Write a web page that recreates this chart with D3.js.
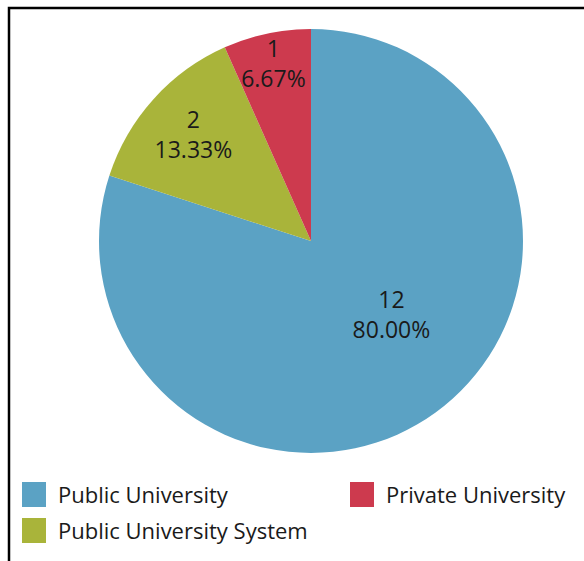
<!DOCTYPE html>
<html>
<head>
<meta charset="utf-8">
<script src="https://cdn.jsdelivr.net/npm/d3@7"></script>
<style>
  body { margin: 0; background: #fff; }
  text { font-family: "Open Sans", "Noto Sans", sans-serif; fill: #1a1a1a; }
</style>
</head>
<body>
<div id="chart"></div>
<script>
// data
var categories = ['Public University', 'Public University System', 'Private University'];
var counts = [12, 2, 1];
var colors = ['#5ba2c4', '#a9b43a', '#cd3a4e'];
// legend order as shown
var legendOrder = ['Public University', 'Private University', 'Public University System'];

var width = 584, height = 561;
var cx = 311, cy = 241, radius = 212;

var svg = d3.select('#chart').append('svg')
    .attr('width', width)
    .attr('height', height);

// frame (only top and left edges are visible in the crop)
svg.append('path')
    .attr('d', 'M9,' + height + 'V8H' + width)
    .attr('fill', 'none')
    .attr('stroke', '#000')
    .attr('stroke-width', 2.5);

var color = d3.scaleOrdinal().domain(categories).range(colors);

var dataset = categories.map(function(c, i) { return { label: c, count: counts[i] }; });
var total = d3.sum(counts);

var pie = d3.pie()
    .value(function(d) { return d.count; })
    .sort(null);

var arc = d3.arc().innerRadius(0).outerRadius(radius);

var g = svg.append('g')
    .attr('transform', 'translate(' + cx + ',' + cy + ')');

var slices = pie(dataset);

g.selectAll('path')
    .data(slices)
    .enter()
    .append('path')
    .attr('d', arc)
    .attr('fill', function(d) { return color(d.data.label); });

// labels: small slices sit near the rim, the big one nearer the middle
function labelPos(d) {
  var f = d.data.count / total;
  var a = (d.startAngle + d.endAngle) / 2;
  var r;
  if (f > 0.5) {
    r = radius * 0.515;
    a -= 0.2;
  } else {
    r = radius * (0.96 - 1.6 * f);
  }
  return [Math.sin(a) * r, -Math.cos(a) * r];
}

var labels = g.selectAll('text.lbl')
    .data(slices)
    .enter()
    .append('text')
    .attr('class', 'lbl')
    .attr('text-anchor', 'middle')
    .style('font-size', '23px')
    .attr('transform', function(d) {
      var p = labelPos(d);
      return 'translate(' + p[0] + ',' + p[1] + ')';
    });

labels.append('tspan')
    .attr('x', 0)
    .attr('y', -7)
    .text(function(d) { return d.data.count; });

labels.append('tspan')
    .attr('x', 0)
    .attr('y', 23)
    .text(function(d) { return (d.data.count / total * 100).toFixed(2) + '%'; });

// legend
var legendX = d3.scalePoint().domain([0, 1]).range([22, 350]);
var legend = svg.append('g');
var items = legend.selectAll('g')
    .data(legendOrder)
    .enter()
    .append('g')
    .attr('transform', function(d, i) {
      return 'translate(' + legendX(i % 2) + ',' + (482 + Math.floor(i / 2) * 36) + ')';
    });

items.append('rect')
    .attr('width', 24)
    .attr('height', 25)
    .attr('fill', function(d) { return color(d); });

items.append('text')
    .attr('x', 36)
    .attr('y', 21)
    .style('font-size', '22px')
    .text(function(d) { return d; });
</script>
</body>
</html>
